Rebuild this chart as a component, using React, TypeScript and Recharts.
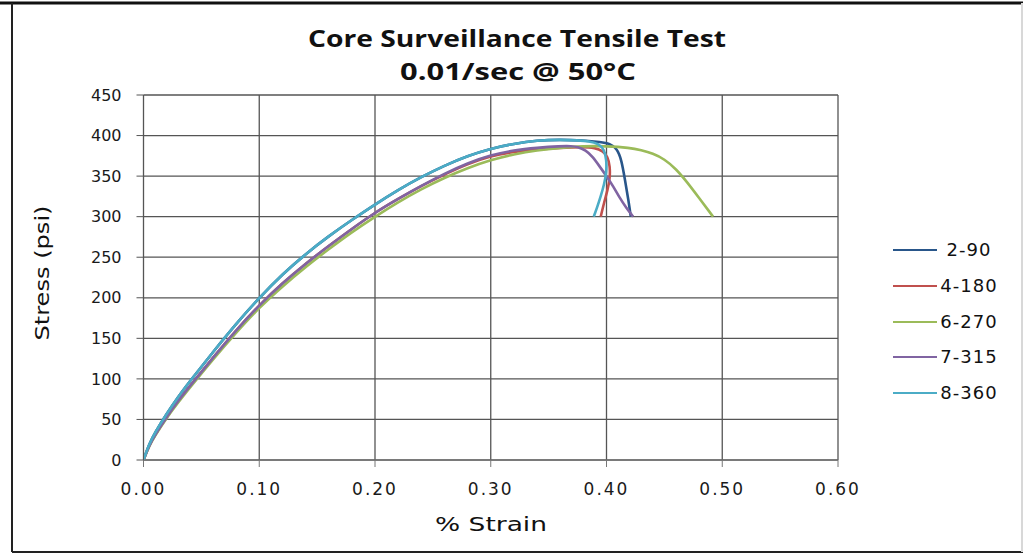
import React from 'react';
import { LineChart, Line, XAxis, YAxis, CartesianGrid } from 'recharts';

const seriesNames = ['2-90', '4-180', '6-270', '7-315', '8-360'];
const seriesColors = ['#29568A', '#C0504D', '#9BBB59', '#8064A2', '#4BACC6'];

const xTicks = [0, 0.1, 0.2, 0.3, 0.4, 0.5, 0.6];
const yTicks = [0, 50, 100, 150, 200, 250, 300, 350, 400, 450];

// strain (as shown on axis) / stress (psi)
const s290x = [0, 0.005, 0.01, 0.02, 0.03, 0.04, 0.06, 0.08, 0.1, 0.12, 0.14, 0.16, 0.18, 0.2, 0.22, 0.24, 0.26, 0.28, 0.3, 0.32, 0.34, 0.36, 0.38, 0.395, 0.403, 0.409, 0.413, 0.416, 0.419, 0.421];
const s290y = [0, 20, 34, 57, 78, 97, 133, 168, 200, 229, 254, 276, 296, 315, 333, 349, 363, 375, 384, 390, 394, 395, 394, 392, 390, 384, 370, 345, 320, 300];

const s4180x = [0, 0.005, 0.01, 0.02, 0.03, 0.04, 0.06, 0.08, 0.1, 0.12, 0.14, 0.16, 0.18, 0.2, 0.22, 0.24, 0.26, 0.28, 0.3, 0.32, 0.34, 0.36, 0.38, 0.39, 0.397, 0.401, 0.403, 0.403, 0.401, 0.398, 0.395];
const s4180y = [0, 18, 31, 53, 73, 91, 126, 160, 191, 218, 242, 264, 285, 305, 322, 338, 352, 365, 375, 380, 383, 385, 386, 385, 381, 374, 362, 348, 333, 318, 300];

const s6270x = [0, 0.005, 0.01, 0.02, 0.03, 0.04, 0.06, 0.08, 0.1, 0.12, 0.14, 0.16, 0.18, 0.2, 0.22, 0.24, 0.26, 0.28, 0.3, 0.32, 0.34, 0.36, 0.38, 0.4, 0.42, 0.43, 0.44, 0.45, 0.46, 0.47, 0.48, 0.49, 0.492];
const s6270y = [0, 18, 30, 52, 71, 89, 124, 157, 188, 214, 238, 260, 281, 300, 318, 334, 348, 360, 370, 377, 382, 385, 387, 387, 385, 382, 378, 371, 359, 342, 323, 304, 300];

const s7315x = [0, 0.005, 0.01, 0.02, 0.03, 0.04, 0.06, 0.08, 0.1, 0.12, 0.14, 0.16, 0.18, 0.2, 0.22, 0.24, 0.26, 0.28, 0.3, 0.32, 0.34, 0.36, 0.37, 0.375, 0.382, 0.388, 0.394, 0.4, 0.406, 0.411, 0.417, 0.423];
const s7315y = [0, 18, 31, 53, 73, 91, 126, 160, 191, 218, 242, 264, 285, 305, 322, 338, 353, 366, 376, 382, 385, 387, 387, 386, 382, 374, 362, 350, 337, 324, 311, 300];

const s8360x = [0, 0.005, 0.01, 0.02, 0.03, 0.04, 0.06, 0.08, 0.1, 0.12, 0.14, 0.16, 0.18, 0.2, 0.22, 0.24, 0.26, 0.28, 0.3, 0.32, 0.34, 0.36, 0.375, 0.385, 0.393, 0.398, 0.4, 0.4, 0.398, 0.395, 0.392, 0.389];
const s8360y = [0, 20, 34, 57, 78, 97, 133, 168, 200, 229, 254, 276, 296, 315, 333, 349, 363, 375, 384, 390, 394, 395, 394, 393, 390, 383, 370, 355, 340, 325, 312, 300];

const toPts = (xs: number[], ys: number[]) => xs.map((x, i) => ({ x, y: ys[i] }));
const seriesData = [
  toPts(s290x, s290y),
  toPts(s4180x, s4180y),
  toPts(s6270x, s6270y),
  toPts(s7315x, s7315y),
  toPts(s8360x, s8360y),
];

const yTickFont = { fontFamily: 'DejaVu Sans', fontSize: 16, fill: '#1a1a1a' };
const xTickFont = { fontFamily: 'DejaVu Sans', fontSize: 17, fill: '#1a1a1a', letterSpacing: 2 };

export default function App() {
  return (
    <div style={{ position: 'absolute', left: 0, top: 0, width: 1025, height: 555, background: '#fff', overflow: 'hidden' }}>
      <div style={{ position: 'absolute', left: 0, top: 0 }}>
        <LineChart width={1025} height={555} margin={{ top: 95, right: 187, bottom: 65, left: 0 }}>
          <CartesianGrid stroke="#555" strokeWidth={1.3} />
          <XAxis
            type="number"
            dataKey="x"
            domain={[0, 0.6]}
            ticks={xTicks}
            tickFormatter={(v: number) => v.toFixed(2)}
            tick={xTickFont}
            tickSize={7}
            tickMargin={16}
            stroke="#777"
            height={30}
            allowDataOverflow
            label={{
              content: () => (
                <text x={491} y={524} textAnchor="middle" dominantBaseline="central" textLength={112} lengthAdjust="spacingAndGlyphs" style={{ fontFamily: 'DejaVu Sans', fontSize: 20, fill: '#111' }}>
                  % Strain
                </text>
              ),
            }}
          />
          <YAxis
            type="number"
            dataKey="y"
            domain={[0, 450]}
            ticks={yTicks}
            tick={yTickFont}
            tickSize={7}
            tickMargin={15}
            stroke="#555"
            width={143.5}
            allowDataOverflow
            label={{
              content: () => (
                <text x={42} y={273} transform="rotate(-90 42 273)" textAnchor="middle" dominantBaseline="central" textLength={135} lengthAdjust="spacingAndGlyphs" style={{ fontFamily: 'DejaVu Sans', fontSize: 20, fill: '#111' }}>
                  Stress (psi)
                </text>
              ),
            }}
          />
          {seriesNames.map((n, i) => (
            <Line
              key={n}
              data={seriesData[i]}
              dataKey="y"
              name={n}
              type="basis"
              stroke={seriesColors[i]}
              strokeWidth={2.6}
              dot={false}
              isAnimationActive={false}
            />
          ))}
        </LineChart>
      </div>
      <svg width={1025} height={555} style={{ position: 'absolute', left: 0, top: 0, pointerEvents: 'none' }}>
        <line x1={0} y1={3} x2={1023} y2={3} stroke="#111" strokeWidth={3} />
        <line x1={12} y1={3} x2={12} y2={552} stroke="#222" strokeWidth={2} />
        <line x1={12} y1={552} x2={1023} y2={552} stroke="#222" strokeWidth={2} />
        <line x1={1022} y1={3} x2={1022} y2={552} stroke="#d8d8d8" strokeWidth={2} />
        <text x={517} y={37} textAnchor="middle" dominantBaseline="central" textLength={418} lengthAdjust="spacingAndGlyphs" style={{ fontFamily: 'Open Sans', fontWeight: 700, fontSize: 24, fill: '#111' }}>
          Core Surveillance Tensile Test
        </text>
        <text x={518} y={70} textAnchor="middle" dominantBaseline="central" textLength={236} lengthAdjust="spacingAndGlyphs" style={{ fontFamily: 'Open Sans', fontWeight: 700, fontSize: 24, fill: '#111' }}>
          0.01/sec @ 50°C
        </text>
      </svg>
      <div style={{ position: 'absolute', left: 893, top: 232 }}>
        {seriesNames.map((n, i) => (
          <div key={n} style={{ position: 'relative', height: 35.8, width: 120 }}>
            <div style={{ position: 'absolute', left: 0, top: 17, width: 44, height: 0, borderTop: `2.5px solid ${seriesColors[i]}` }} />
            <div style={{ position: 'absolute', left: 50, width: 52, top: 5, fontFamily: 'DejaVu Sans', fontSize: 18, letterSpacing: 1, lineHeight: '26px', color: '#111', whiteSpace: 'nowrap', display: 'flex', justifyContent: 'center' }}>{n}</div>
          </div>
        ))}
      </div>
    </div>
  );
}
